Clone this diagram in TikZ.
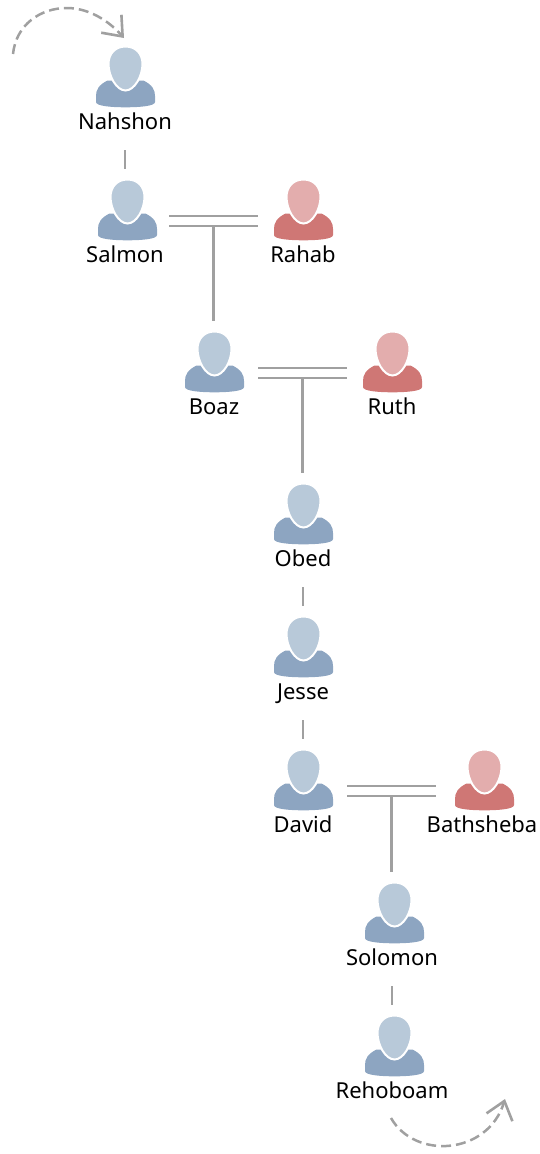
\documentclass[tikz,border=0pt]{standalone}
\usepackage{fontspec}
\setmainfont{Noto Sans}
\usetikzlibrary{positioning,calc,arrows.meta}
\definecolor{manhead}{HTML}{B8C9D9}
\definecolor{manbody}{HTML}{8DA5C1}
\definecolor{womanhead}{HTML}{E3ADAD}
\definecolor{womanbody}{HTML}{CF7775}
\definecolor{lineage}{HTML}{A0A0A0}
\begin{document}
\begin{tikzpicture}[x=1pt,y=1pt,node distance=133pt,on grid,
	bust/.pic={
		\fill[#1body] (-29.5,-9) -- (-29.5,-3) .. controls (-29.5,3) and (-27,8) .. (-18,12.5)
			-- (18,12.5) .. controls (27,8) and (29.5,3) .. (29.5,-3) -- (29.5,-9)
			.. controls (29.5,-13) and (15,-14.3) .. (0,-14.3)
			.. controls (-15,-14.3) and (-29.5,-13) .. (-29.5,-9) -- cycle;
		\filldraw[fill=#1head,draw=white,line width=2pt] (0,46.5)
			.. controls (10.5,46.5) and (17,39) .. (17,29)
			.. controls (17,17) and (9,2.5) .. (0,2.5)
			.. controls (-9,2.5) and (-17,17) .. (-17,29)
			.. controls (-17,39) and (-10.5,46.5) .. (0,46.5) -- cycle;
	},
	person/.style n args={3}{rectangle,inner sep=0pt,minimum width=#3,
		text height=93pt,text depth=21pt,font=\fontsize{22pt}{24pt}\selectfont,
		append after command={([xshift=#2]\tikzlastnode.center) pic {bust=#1}}},
	man/.style={person={man}{0.5pt}{88pt}},
	manoff/.style={person={man}{2.5pt}{88pt}},
	woman/.style={person={woman}{0.5pt}{90pt}},
	womanoff/.style={person={woman}{2.5pt}{92pt}},
	kin/.style={draw=lineage,line width=2.6pt},
	onward/.style={draw=lineage,line width=2.5pt,dash pattern=on 10pt off 5pt,
		-{Straight Barb[length=17pt,width=27pt,line width=2.6pt]}}]
\useasboundingbox (0,0) rectangle (539,-1154);
\node[man] (nahshon) at (125,-93) {Nahshon};
\node[manoff,below=of nahshon] (salmon) {Salmon};
\node[woman,right=178pt of salmon] (rahab) {Rahab};
\node[man,below right=152pt and 89pt of salmon] (boaz) {Boaz};
\node[woman,right=178pt of boaz] (ruth) {Ruth};
\node[man,below right=152pt and 89pt of boaz] (obed) {Obed};
\node[man,below=of obed] (jesse) {Jesse};
\node[man,below=of jesse] (david) {David};
\node[womanoff,right=179pt of david] (bathsheba) {\makebox[0pt]{Bathsheba}};
\node[manoff,below right=133pt and 89pt of david] (solomon) {Solomon};
\node[manoff,below=of solomon] (rehoboam) {Rehoboam};
% single descent
\draw[kin] (nahshon) -- (salmon);
\draw[kin] (obed) -- (jesse);
\draw[kin] (jesse) -- (david);
\draw[kin] (solomon) -- (rehoboam);
% couples
\coordinate (salmonrahab) at ($(salmon.east)!.5!(rahab.west)$);
\draw[kin] (salmon.east) -- (rahab.west);
\draw[kin] ([yshift=10pt]salmon.east) -- ([yshift=10pt]rahab.west);
\draw[kin] (salmonrahab) -- (salmonrahab |- boaz.north);
\coordinate (boazruth) at ($(boaz.east)!.5!(ruth.west)$);
\draw[kin] (boaz.east) -- (ruth.west);
\draw[kin] ([yshift=10pt]boaz.east) -- ([yshift=10pt]ruth.west);
\draw[kin] (boazruth) -- (boazruth |- obed.north);
\coordinate (davidbathsheba) at ($(david.east)!.5!(bathsheba.west)$);
\draw[kin] (david.east) -- (bathsheba.west);
\draw[kin] ([yshift=10pt]david.east) -- ([yshift=10pt]bathsheba.west);
\draw[kin] (davidbathsheba) -- (davidbathsheba |- solomon.north);
% lines coming in and going out
\coordinate (comefrom) at (13,-54);
\coordinate (cometo) at (124,-38);
\coordinate (gofrom) at (391,-1118);
\coordinate (goto) at (505,-1099);
\draw[onward] (comefrom) .. controls (16,-25) and (40,-8) .. (67,-8) .. controls (88,-8) and (108,-20) .. (cometo);
\draw[onward] (gofrom) .. controls (415,-1160) and (488,-1155) .. (goto);
\end{tikzpicture}
\end{document}
